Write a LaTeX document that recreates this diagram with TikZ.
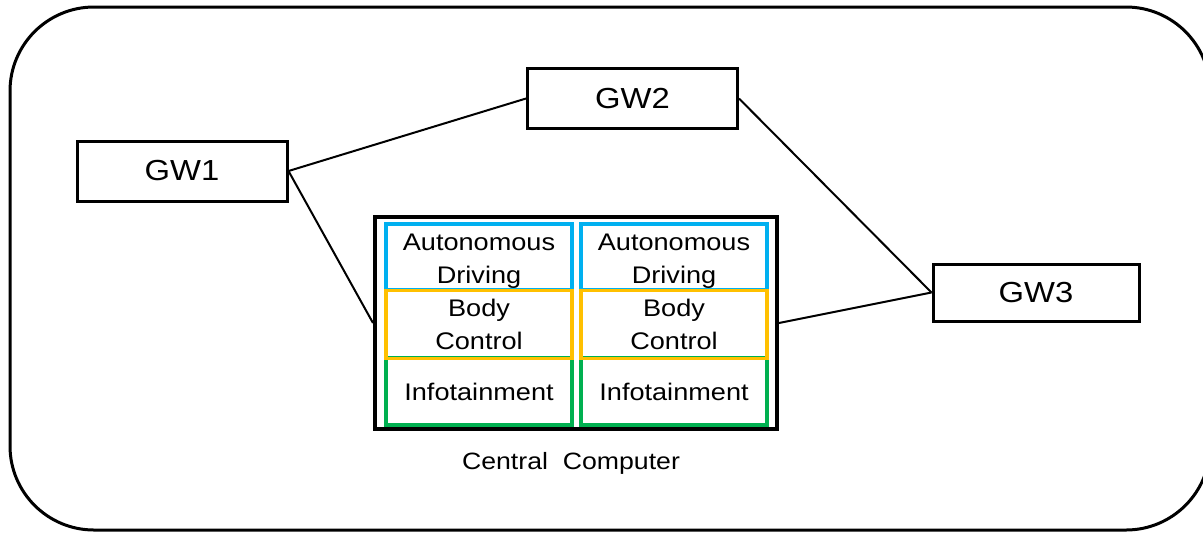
\documentclass[tikz,border=0pt]{standalone}
\usepackage{fontspec}
\setmainfont{Liberation Sans}[FakeStretch=1.13]
\definecolor{adblue}{RGB}{0,176,240}
\definecolor{bcorange}{RGB}{255,192,0}
\definecolor{ifgreen}{RGB}{0,176,80}
\begin{document}
\begin{tikzpicture}[x=0.5pt,y=-0.5pt,
  gw/.style={draw,line width=1.5pt,minimum width=105pt,minimum height=30pt,inner sep=0pt,font=\fontsize{14.5}{17}\selectfont},
  sub/.style={draw,line width=1.6pt,minimum width=93pt,inner sep=0pt,align=center,font=\fontsize{12}{16.5}\selectfont},
  link/.style={line width=1pt}]
\useasboundingbox (0,0) rectangle (1203,532);
\draw[line width=1.5pt,rounded corners=42pt] (10,7) rectangle (1210,530);
\node[gw] (gw1) at (182,171) {GW1};
\node[gw] (gw2) at (632.5,98.5) {GW2};
\node[gw,minimum width=103pt,minimum height=28.5pt] (gw3) at (1036,292.5) {GW3};
\node[draw,line width=2pt,minimum width=201pt,minimum height=106pt,inner sep=0pt] (cc) at (576,323) {};
\node[sub,adblue,minimum height=33pt,label={[yshift=-2pt,align=center,font=\fontsize{12}{16.5}\selectfont,text=black]center:Autonomous\\Driving}] (ad1) at (479,257) {};
\node[sub,adblue,minimum height=33pt,label={[yshift=-2pt,align=center,font=\fontsize{12}{16.5}\selectfont,text=black]center:Autonomous\\Driving}] (ad2) at (674,257) {};
\node[sub,ifgreen,text=black,minimum height=33.5pt] (if1) at (479,391.5) {Infotainment};
\node[sub,ifgreen,text=black,minimum height=33.5pt] (if2) at (674,391.5) {Infotainment};
\node[sub,bcorange,text=black,minimum height=34pt] (bc1) at (479,324.5) {Body\\Control};
\node[sub,bcorange,text=black,minimum height=34pt] (bc2) at (674,324.5) {Body\\Control};
\node[font=\fontsize{11.8}{14}\selectfont] (cclabel) at (571,463) {Central\ \ Computer};
\draw[link] (gw1.east) -- (gw2.west);
\draw[link] (gw1.east) -- (cc.west);
\draw[link] (gw2.east) -- (gw3.west);
\draw[link] (cc.east) -- (gw3.west);
\end{tikzpicture}
\end{document}
